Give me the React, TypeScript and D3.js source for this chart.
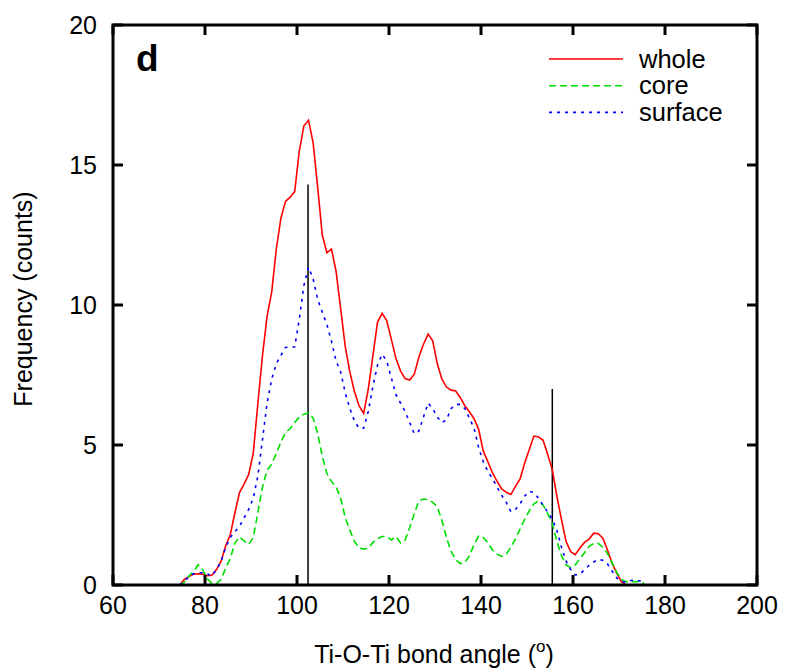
import React from "react";
import * as d3 from "d3";

const angles = [
  74.5, 75.5, 76.5, 77.5, 78.5, 79.5, 80.5, 81.5, 82.5, 83.5,
  84.5, 85.5, 86.5, 87.5, 88.5, 89.5, 90.5, 91.5, 92.5, 93.5,
  94.5, 95.5, 96.5, 97.5, 98.5, 99.5, 100.5, 101.5, 102.5, 103.5,
  104.5, 105.5, 106.5, 107.5, 108.5, 109.5, 110.5, 111.5, 112.5, 113.5,
  114.5, 115.5, 116.5, 117.5, 118.5, 119.5, 120.5, 121.5, 122.5, 123.5,
  124.5, 125.5, 126.5, 127.5, 128.5, 129.5, 130.5, 131.5, 132.5, 133.5,
  134.5, 135.5, 136.5, 137.5, 138.5, 139.5, 140.5, 141.5, 142.5, 143.5,
  144.5, 145.5, 146.5, 147.5, 148.5, 149.5, 150.5, 151.5, 152.5, 153.5,
  154.5, 155.5, 156.5, 157.5, 158.5, 159.5, 160.5, 161.5, 162.5, 163.5,
  164.5, 165.5, 166.5, 167.5, 168.5, 169.5, 170.5, 171.5, 172.5, 173.5,
  174.5, 175.5,
];

const whole = [
  0, 0.2, 0.3, 0.39, 0.4, 0.39, 0.33, 0.35, 0.55, 0.85,
  1.4, 1.8, 2.58, 3.3, 3.6, 3.95, 4.72, 6.5, 8.2, 9.6,
  10.46, 12.0, 13.1, 13.7, 13.85, 14.05, 15.5, 16.4, 16.6, 15.8,
  14.2, 12.5, 11.86, 12.0, 11.2, 9.86, 8.5, 7.6, 6.9, 6.4,
  6.13, 7.0, 8.18, 9.38, 9.7, 9.44, 8.78, 8.1, 7.65, 7.37,
  7.32, 7.53, 8.14, 8.6, 8.96, 8.72, 7.9, 7.35, 7.07, 6.96,
  6.93, 6.69, 6.4, 6.18, 5.94, 5.55, 4.78, 4.4, 4.0, 3.7,
  3.43, 3.31, 3.23, 3.52, 3.79, 4.36, 4.84, 5.32, 5.29, 5.17,
  4.66, 4.12, 3.17, 2.33, 1.55, 1.19, 1.08, 1.32, 1.52, 1.64,
  1.85, 1.83, 1.67, 1.25, 0.78, 0.42, 0.12, 0,
];

const core = [
  0, 0.1, 0.32, 0.48, 0.72, 0.55, 0.22, 0.06, 0.05, 0.2,
  0.6, 0.95, 1.5, 1.72, 1.58, 1.45, 1.7, 2.6, 3.5, 4.1,
  4.32, 4.7, 5.1, 5.45, 5.58, 5.8, 6.0, 6.1, 6.15, 5.97,
  5.4, 4.6, 3.98, 3.7, 3.5, 3.1, 2.4, 1.95, 1.55, 1.33,
  1.28, 1.32, 1.52, 1.65, 1.73, 1.73, 1.61, 1.73, 1.5, 1.6,
  2.05, 2.55, 3.0, 3.07, 3.05, 2.95, 2.8, 2.3, 1.7, 1.2,
  0.9, 0.76, 0.8, 1.05, 1.45, 1.75, 1.7, 1.5, 1.25, 1.1,
  1.02, 1.1, 1.35, 1.65, 2.0, 2.35, 2.65, 2.9, 3.0, 2.85,
  2.55, 2.2, 1.55, 1.05, 0.72, 0.62, 0.72, 0.95, 1.15, 1.38,
  1.48, 1.48, 1.35, 1.12, 0.8, 0.45, 0.2, 0.12, 0.12, 0.12,
  0.12, 0.05,
];

const surface = [
  0, 0.15, 0.28, 0.4, 0.44, 0.44, 0.4, 0.32, 0.55, 0.85,
  1.35, 1.7, 1.9, 2.1, 2.4, 2.7, 3.1, 3.9, 5.2, 6.5,
  7.35, 7.9, 8.2, 8.48, 8.5, 8.5, 9.5, 10.7, 11.35, 10.93,
  10.2, 9.74, 9.3, 8.7, 8.0, 7.6, 6.85, 6.3, 5.85, 5.6,
  5.6, 6.2, 7.1, 7.85, 8.24, 8.0, 7.4, 6.8, 6.5, 6.2,
  5.8, 5.4, 5.5, 6.0, 6.5, 6.3, 6.0, 5.8, 5.9, 6.3,
  6.45, 6.45, 6.3, 5.95, 5.6, 4.9, 4.4, 4.05, 3.8, 3.5,
  3.2, 2.95, 2.62, 2.7, 2.9, 3.18, 3.35, 3.3, 3.1, 2.85,
  2.6, 2.35, 1.95, 1.35, 0.85, 0.55, 0.36, 0.38, 0.55, 0.7,
  0.82, 0.92, 0.88, 0.75, 0.5, 0.25, 0.12, 0.1, 0.16, 0.18,
  0.15, 0.05,
];

const xTicks = [60, 80, 100, 120, 140, 160, 180, 200];
const yTicks = [0, 5, 10, 15, 20];
const markerAngles = [102.4, 155.5];
const markerHeights = [14.3, 7.0];

const seriesNames = ["whole", "core", "surface"];
const seriesColors = ["#ff0000", "#00dd00", "#0000ff"];
const seriesDash = ["", "7,4", "3,5"];

const W = 786;
const H = 668;
const M = { left: 113, right: 757, top: 25, bottom: 585 };
const FONT = "'Liberation Sans', Arial, Helvetica, sans-serif";
const FS = 25;

export default function App() {
  const x = d3.scaleLinear().domain([60, 200]).range([M.left, M.right]);
  const y = d3.scaleLinear().domain([0, 20]).range([M.bottom, M.top]);
  const seriesData = [whole, core, surface];
  const line = d3
    .line<[number, number]>()
    .x((d) => x(d[0]))
    .y((d) => y(d[1]));

  const tickLen = 10;

  return (
    <svg
      width={W}
      height={H}
      style={{ position: "absolute", left: 0, top: 0, background: "#fff" }}
      fontFamily={FONT}
    >
      <rect x={0} y={0} width={W} height={H} fill="#fff" />
      {markerAngles.map((a, i) => (
        <line
          key={"m" + i}
          x1={x(a)}
          x2={x(a)}
          y1={y(0)}
          y2={y(markerHeights[i])}
          stroke="#000"
          strokeWidth={1.5}
        />
      ))}
      {seriesData.map((vals, si) => {
        const pts: [number, number][] = vals.map((v, i) => [angles[i], v]);
        return (
          <path
            key={"s" + si}
            d={line(pts) || ""}
            fill="none"
            stroke={seriesColors[si]}
            strokeWidth={1.6}
            strokeDasharray={seriesDash[si] || undefined}
            strokeLinejoin="miter"
          />
        );
      })}
      <rect
        x={M.left}
        y={M.top}
        width={M.right - M.left}
        height={M.bottom - M.top}
        fill="none"
        stroke="#000"
        strokeWidth={3}
      />
      {xTicks.map((t) => (
        <g key={"xt" + t}>
          <line x1={x(t)} x2={x(t)} y1={M.bottom} y2={M.bottom - tickLen} stroke="#000" strokeWidth={3} />
          <line x1={x(t)} x2={x(t)} y1={M.top} y2={M.top + tickLen} stroke="#000" strokeWidth={3} />
          <text x={x(t)} y={614} textAnchor="middle" fontSize={FS} fill="#000">
            {t}
          </text>
        </g>
      ))}
      {yTicks.map((t) => (
        <g key={"yt" + t}>
          <line x1={M.left} x2={M.left + tickLen} y1={y(t)} y2={y(t)} stroke="#000" strokeWidth={3} />
          <line x1={M.right} x2={M.right - tickLen} y1={y(t)} y2={y(t)} stroke="#000" strokeWidth={3} />
          <text x={97} y={y(t) + 8.5} textAnchor="end" fontSize={FS} fill="#000">
            {t}
          </text>
        </g>
      ))}
      <text x={136} y={71} fontSize={37} fontWeight="bold" fill="#000">
        d
      </text>
      {seriesNames.map((n, i) => (
        <g key={"lg" + i}>
          <line
            x1={549}
            x2={623}
            y1={59 + i * 26.7}
            y2={59 + i * 26.7}
            stroke={seriesColors[i]}
            strokeWidth={1.6}
            strokeDasharray={seriesDash[i] || undefined}
          />
          <text x={639} y={67.7 + i * 26.7} fontSize={25.5} fill="#000">
            {n}
          </text>
        </g>
      ))}
      <text x={434} y={663} textAnchor="middle" fontSize={FS} fill="#000">
        Ti-O-Ti bond angle (
        <tspan dy={-11} fontSize={17}>o</tspan>
        <tspan dy={11}>)</tspan>
      </text>
      <text
        transform={`translate(31.5, 299) rotate(-90)`}
        textAnchor="middle"
        fontSize={FS}
        fill="#000"
      >
        Frequency (counts)
      </text>
    </svg>
  );
}
